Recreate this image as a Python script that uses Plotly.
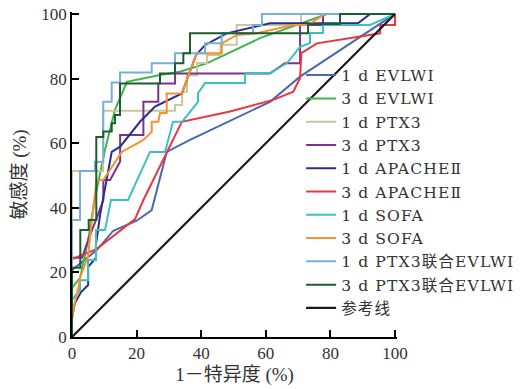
import plotly.graph_objects as go

# ---- data (percent) ----
labels = ["1 d EVLWI", "3 d EVLWI", "1 d PTX3", "3 d PTX3",
          "1 d APACHEⅡ", "3 d APACHEⅡ", "1 d SOFA", "3 d SOFA",
          "1 d PTX3联合EVLWI", "3 d PTX3联合EVLWI", "参考线"]
colors = ["#4a67b1", "#3cb54a", "#c9c59f", "#7a3192", "#2a2d8e", "#e8373f",
          "#3fc0c0", "#f7902f", "#7aaed6", "#1e5b2e", "#1a1a1a"]

evlwi1_x = [0, 0, 7.65, 12.79, 20.03, 24.67, 29.32, 36.53, 61.3, 70.59, 100]
evlwi1_y = [0, 20.7, 26.9, 32.9, 36.0, 39.3, 57.3, 61.0, 72.8, 80.6, 100]

evlwi3_x = [0, 0, 2.5, 5.0, 7.0, 10.2, 13.3, 17.0, 27.2, 33.4, 41.7, 58.2, 69.6, 78.9, 100]
evlwi3_y = [0, 15.2, 18.3, 30.0, 42.4, 57.9, 70.3, 79.0, 81.1, 82.1, 84.7, 92.5, 96.6, 100, 100]

ptx1_x = [0, 0, 9.6, 9.6, 31.9, 31.9, 34.1, 34.1, 35.6, 35.6, 38.7, 38.7, 41.8, 41.8, 46, 46, 51, 51, 70.9, 70.9, 100]
ptx1_y = [0, 51.4, 51.4, 70, 70, 71.8, 71.8, 75.9, 75.9, 81, 81, 84.8, 84.8, 87.3, 87.3, 90.5, 90.5, 96.6, 96.6, 100, 100]

ptx3_x = [0, 0, 3.1, 5, 7.4, 9.7, 9.7, 11.8, 14.9, 14.9, 22.1, 22.1, 26.7, 26.7, 31.9, 31.9, 61.3, 65.9, 70.6, 70.6, 77.7, 77.7, 100]
ptx3_y = [0, 24.5, 24.5, 30, 36.2, 42.4, 48.6, 48.6, 54.3, 62.5, 62.5, 72.8, 72.8, 78.5, 78.5, 81.6, 81.6, 84.7, 84.7, 96.6, 96.6, 100, 100]

apache1_x = [0, 0, 0.9, 2.8, 5, 5, 7.4, 7.4, 8.7, 9.9, 12.3, 14.9, 21.1, 25.7, 34, 38.4, 41.2, 47.9, 61.3, 88.5, 92.3, 100]
apache1_y = [0, 5.9, 10.5, 13.9, 16.1, 21.7, 24.5, 28.5, 37.8, 44, 57.3, 58.9, 66.7, 71.3, 75.4, 87.3, 90.4, 94, 97.1, 97.1, 100, 100]

apache3_x = [0, 0, 7.6, 19.5, 22.1, 34, 48.9, 62.3, 68.5, 70.6, 71, 75.8, 95.4, 95.4, 100, 100]
apache3_y = [0, 24.1, 27.2, 36.5, 42.4, 66.6, 69.8, 73.4, 75.9, 80.2, 87.9, 90.9, 94, 96.6, 96.6, 100]

sofa1_x = [0, 0, 2.48, 2.48, 4.95, 4.95, 7.43, 7.43, 10.22, 12.07, 17.34, 24.15, 28.79, 31.27, 34.06, 36.53, 39.01, 39.01,
           41.18, 53.56, 53.56, 61.3, 66.56, 70.59, 73.68, 73.68, 77.71, 77.71, 92.26, 100]
sofa1_y = [0, 11.5, 14.6, 17.6, 17.6, 23.8, 23.8, 33.1, 33.1, 42.4, 42.4, 57.3, 57.3, 66.6, 66.6, 69.7, 72.8, 75.5,
           78.6, 78.6, 81.7, 81.7, 84.8, 89.8, 91, 94.1, 94.1, 96.6, 96.6, 100]

sofa3_x = [0, 0, 0.84, 1.86, 2.57, 4.95, 5.48, 7.03, 7.59, 9.69, 15.39, 21.05, 22.07, 24.67, 24.67, 26.72, 27.24, 29.32,
           29.32, 33.96, 38.6, 46.35, 46.35, 51.08, 57.18, 68.42, 73.07, 78.33, 100]
sofa3_y = [0, 5.3, 10.5, 14.6, 18.6, 24.8, 30, 42.4, 48.6, 48.6, 57.3, 60.4, 61, 63.5, 66.6, 66.6, 69.3, 69.3,
           75.4, 75.4, 87.8, 87.8, 90.9, 93.5, 94, 96.6, 96.6, 100, 100]

comb1_x = [0, 0, 2.48, 2.48, 7.12, 7.12, 9.69, 9.69, 12.29, 12.29, 14.86, 14.86, 24.67, 24.67, 31.89, 31.89,
           41.18, 41.18, 46.35, 46.35, 56.04, 56.04, 58.82, 58.82, 100]
comb1_y = [0, 36.2, 36.2, 51.4, 51.4, 54.2, 54.2, 72.8, 72.8, 78.8, 78.8, 81.9, 81.9, 84.7, 84.7, 87.8,
           87.8, 90.9, 90.9, 94, 94, 96.6, 96.6, 100, 100]

comb3_x = [0, 0, 2.57, 2.57, 5.17, 5.17, 7.52, 7.52, 9.69, 9.69, 12.29, 12.29, 13.3, 13.3, 14.86, 14.86, 27.24, 27.24,
           31.89, 31.89, 34.46, 34.46, 36.53, 36.53, 73.07, 73.07, 82.97, 82.97, 100]
comb3_y = [0, 21.4, 21.4, 33.1, 33.1, 36.2, 36.2, 61.9, 61.9, 63.6, 63.6, 66.2, 66.2, 68.7, 68.7, 78.5, 78.5, 81.6,
           81.6, 84.7, 84.7, 87.8, 87.8, 94, 94, 96.9, 96.9, 100, 100]

ref_x = [0, 100]
ref_y = [0, 100]

series = [(evlwi1_x, evlwi1_y), (evlwi3_x, evlwi3_y), (ptx1_x, ptx1_y), (ptx3_x, ptx3_y),
          (apache1_x, apache1_y), (apache3_x, apache3_y), (sofa1_x, sofa1_y), (sofa3_x, sofa3_y),
          (comb1_x, comb1_y), (comb3_x, comb3_y), (ref_x, ref_y)]

tick_vals = [0, 20, 40, 60, 80, 100]
tick_text = ["0", "20", "40", "60", "80", "100"]

FONT = "Liberation Serif, Times New Roman, Noto Sans CJK SC, serif"
LFONT = "DejaVu Serif, Noto Sans CJK SC, serif"

fig = go.Figure()
for i, ((xs, ys), lab, col) in enumerate(zip(series, labels, colors)):
    nm = '<span style="letter-spacing:1.1px">' + lab.replace(" d ", " d\u00a0") + "</span>"
    fig.add_trace(go.Scatter(x=xs, y=ys, mode="lines", name=nm, legendgroup=str(i),
                             line=dict(color=col, width=2.2 if i == 10 else 2)))

axis_common = dict(showline=True, linecolor="black", linewidth=1.5, ticks="inside", ticklen=7,
                   tickwidth=1.5, tickcolor="black", showgrid=False, zeroline=False, automargin=False,
                   tickvals=tick_vals, ticktext=tick_text,
                   tickfont=dict(family=FONT, size=17, color="#333333"))

fig.update_layout(
    width=521, height=389, autosize=False,
    margin=dict(l=72, r=124, t=12, b=52, autoexpand=False),
    plot_bgcolor="white", paper_bgcolor="white",
    xaxis=dict(range=[0, 100.6], title=dict(text="1－特异度 (%)", font=dict(family=FONT, size=19, color="#333333"),
                                            standoff=6), **axis_common),
    yaxis=dict(range=[0, 100.6], title=dict(text="敏感度 (%)", font=dict(family=FONT, size=19, color="#333333"),
                                            standoff=10), **axis_common),
    legend=dict(x=0.705, y=0.857, xanchor="left", yanchor="top", bgcolor="rgba(0,0,0,0)",
                font=dict(family=LFONT, size=15.6, color="#333333"), tracegroupgap=0, itemwidth=30),
    showlegend=True,
)

fig.write_html("out.html", config={"displayModeBar": False},
               post_script="document.body.style.margin='0';document.body.style.padding='0';")
